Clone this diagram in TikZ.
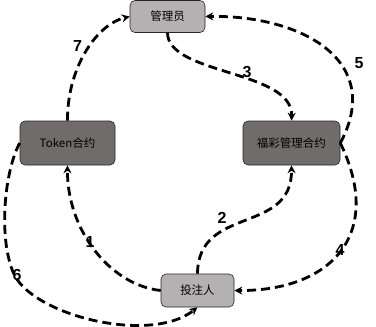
\documentclass[tikz,border=0pt]{standalone}
\usepackage{fontspec}
\setmainfont{Noto Sans CJK SC}
\newfontfamily\numfont{Liberation Sans}
\usetikzlibrary{arrows.meta}
\definecolor{lightfill}{RGB}{179,177,177}
\definecolor{darkfill}{RGB}{112,108,108}

\begin{document}
\begin{tikzpicture}[
  x=1pt, y=-1pt,
  box/.style={draw=black!85, line width=0.6pt, rounded corners=5pt, align=center, inner sep=0pt, font=\fontsize{11.5}{13}\selectfont},
  lightbox/.style={box, fill=lightfill},
  darkbox/.style={box, fill=darkfill},
  flow/.style={-{Stealth[length=8pt, width=8pt]}, line width=2.8pt, dash pattern=on 9pt off 5pt},
  num/.style={inner sep=0pt, font=\numfont\bfseries\fontsize{16}{16}\selectfont}
]
  \useasboundingbox (0,0) rectangle (376,327);

  % Boxes
  \node[lightbox, minimum width=75pt, minimum height=32pt] (admin) at (167.5,16.5) {管理员};
  \node[darkbox, minimum width=95pt, minimum height=44pt] (token) at (67.5,143) {Token合约};
  \node[darkbox, minimum width=97pt, minimum height=44pt] (lottery) at (291.5,143) {福彩管理合约};
  \node[lightbox, minimum width=73pt, minimum height=33pt] (bettor) at (197.5,290.5) {投注人};

  % Flows
  \draw[flow] (bettor.west) .. controls (110,285) and (67,230) .. (token.south);
  \draw[flow] (bettor.north) .. controls (198,205) and (292,235) .. (lottery.south);
  \draw[flow] (admin.south) .. controls (168,75) and (293,70) .. (lottery.north);
  \draw[flow] (lottery.east) .. controls (385,235) and (330,291) .. (bettor.east);
  \draw[flow] (lottery.east) .. controls (385,60) and (300,15) .. (admin.east);
  \coordinate (bend6) at (13,272);
  \draw[flow] (token.west) .. controls (5,170) and (-2,235) .. (bend6) .. controls (30,315) and (150,345) .. (bettor.south);
  \draw[flow] (token.north) .. controls (67,70) and (95,25) .. (admin.west);

  % Step numbers
  \node[num] (n1) at (90,242) {1};
  \node[num] (n2) at (222,218) {2};
  \node[num] (n3) at (247,72) {3};
  \node[num] (n4) at (340,250) {4};
  \node[num] (n5) at (359,63) {5};
  \node[num] (n6) at (17,275) {6};
  \node[num] (n7) at (77.5,45.5) {7};
\end{tikzpicture}
\end{document}
